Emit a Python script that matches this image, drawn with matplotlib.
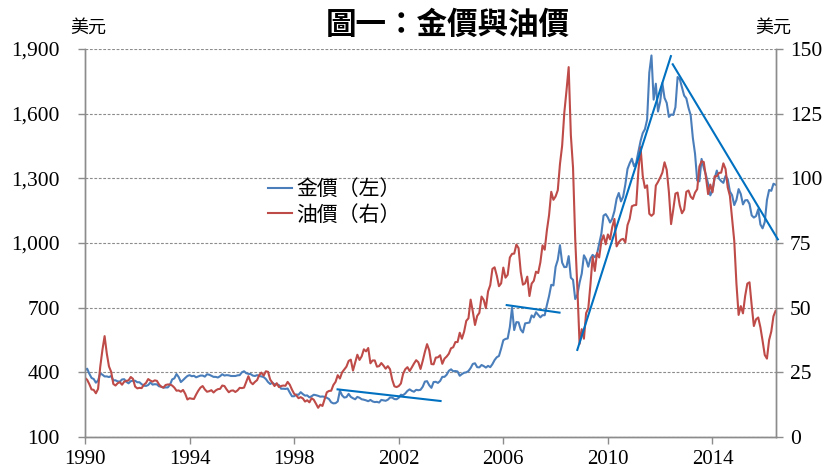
import matplotlib
matplotlib.use("Agg")
import matplotlib.pyplot as plt
from matplotlib.ticker import FuncFormatter
import numpy as np

plt.rcParams['font.family'] = ['Liberation Serif', 'Noto Sans CJK TC', 'DejaVu Sans']

# ---------------- data (monthly, starting Jan 1990) ----------------
gold_by_year = {
    1990: [410, 417, 393, 374, 369, 352, 362, 395, 389, 381, 381, 378],
    1991: [383, 363, 363, 358, 357, 367, 368, 356, 349, 359, 361, 361],
    1992: [354, 354, 345, 338, 337, 341, 353, 343, 345, 344, 335, 334],
    1993: [329, 330, 330, 342, 367, 372, 392, 378, 355, 364, 374, 383],
    1994: [387, 382, 384, 377, 381, 385, 385, 380, 391, 389, 384, 379],
    1995: [379, 376, 382, 391, 385, 387, 386, 383, 383, 383, 386, 387],
    1996: [400, 405, 396, 393, 392, 385, 383, 387, 383, 381, 378, 369],
    1997: [355, 346, 352, 344, 344, 341, 324, 324, 323, 325, 306, 289],
    1998: [289, 297, 296, 308, 299, 292, 293, 284, 289, 296, 294, 291],
    1999: [287, 288, 286, 282, 276, 261, 256, 257, 265, 315, 293, 283],
    2000: [285, 300, 286, 280, 275, 286, 282, 275, 273, 270, 266, 272],
    2001: [265, 262, 263, 260, 272, 270, 268, 273, 283, 283, 276, 275],
    2002: [282, 296, 294, 302, 314, 321, 314, 310, 319, 317, 319, 333],
    2003: [357, 359, 340, 328, 355, 356, 351, 360, 379, 379, 389, 407],
    2004: [414, 405, 406, 404, 384, 392, 398, 400, 406, 420, 439, 442],
    2005: [424, 423, 434, 429, 422, 430, 424, 438, 457, 470, 476, 510],
    2006: [549, 555, 557, 610, 700, 596, 633, 632, 598, 585, 627, 629],
    2007: [631, 664, 655, 679, 667, 655, 665, 665, 712, 754, 806, 803],
    2008: [889, 922, 990, 909, 888, 889, 939, 839, 829, 740, 760, 816],
    2009: [858, 943, 924, 890, 928, 945, 934, 949, 996, 1043, 1127, 1134],
    2010: [1118, 1095, 1113, 1148, 1205, 1232, 1193, 1215, 1271, 1343, 1370, 1391],
    2011: [1356, 1372, 1424, 1473, 1510, 1528, 1572, 1790, 1870, 1665, 1739, 1610],
    2012: [1656, 1742, 1673, 1650, 1585, 1596, 1594, 1630, 1770, 1760, 1721, 1684],
    2013: [1671, 1627, 1593, 1487, 1414, 1290, 1286, 1390, 1349, 1316, 1275, 1221],
    2014: [1244, 1300, 1336, 1299, 1287, 1279, 1311, 1296, 1239, 1222, 1176, 1200],
    2015: [1250, 1227, 1179, 1198, 1199, 1181, 1128, 1118, 1125, 1157, 1086, 1068],
    2016: [1097, 1199, 1246, 1242, 1275, 1270],
}
oil_by_year = {
    1990: [22.9, 22.1, 20.4, 18.4, 18.2, 16.9, 18.6, 27.2, 33.7, 39.0, 32.3, 27.3],
    1991: [25.2, 20.5, 19.9, 20.8, 21.2, 20.2, 21.4, 21.7, 21.9, 23.2, 22.5, 19.5],
    1992: [18.8, 19.0, 18.9, 20.2, 20.9, 22.4, 21.8, 21.4, 21.9, 21.7, 20.3, 19.4],
    1993: [19.1, 20.1, 20.3, 20.3, 19.9, 19.1, 17.9, 18.0, 17.5, 18.2, 16.7, 14.5],
    1994: [15.0, 14.8, 14.7, 16.4, 17.9, 19.1, 19.7, 18.4, 17.5, 17.7, 18.1, 17.2],
    1995: [18.0, 18.5, 18.6, 19.9, 19.7, 18.4, 17.3, 17.9, 18.0, 17.4, 18.0, 19.0],
    1996: [18.9, 19.1, 21.3, 23.5, 21.2, 20.4, 21.3, 22.0, 24.0, 24.9, 23.7, 25.4],
    1997: [25.2, 22.2, 21.0, 19.7, 20.8, 19.3, 19.7, 19.9, 19.8, 21.3, 20.2, 18.3],
    1998: [16.7, 16.1, 15.0, 15.4, 14.9, 13.7, 14.2, 13.4, 15.0, 14.4, 12.9, 11.3],
    1999: [12.5, 12.0, 14.7, 17.3, 17.8, 17.9, 20.1, 21.3, 23.9, 22.6, 25.0, 26.1],
    2000: [27.2, 29.4, 29.9, 25.7, 28.8, 31.8, 29.8, 31.2, 33.9, 33.1, 34.4, 28.5],
    2001: [29.6, 29.6, 27.2, 27.4, 28.6, 27.6, 26.4, 27.4, 26.2, 22.2, 19.6, 19.3],
    2002: [19.7, 20.7, 24.4, 26.2, 27.0, 25.5, 26.9, 28.4, 29.7, 28.9, 26.3, 29.4],
    2003: [32.9, 35.9, 33.5, 28.2, 28.1, 30.7, 30.8, 31.6, 28.3, 30.3, 31.1, 32.2],
    2004: [34.3, 34.7, 36.7, 36.7, 40.3, 38.0, 40.7, 44.9, 45.9, 53.1, 48.5, 43.3],
    2005: [46.8, 48.0, 54.3, 53.0, 49.8, 56.3, 58.7, 65.0, 65.6, 62.4, 58.3, 59.4],
    2006: [65.5, 61.6, 62.7, 69.4, 70.8, 70.9, 74.4, 73.0, 63.8, 58.9, 59.4, 62.0],
    2007: [54.5, 59.3, 60.4, 63.9, 63.4, 67.5, 74.1, 72.4, 79.9, 85.8, 94.8, 91.7],
    2008: [93.0, 95.4, 105.5, 112.6, 125.4, 133.9, 143.0, 116.7, 104.1, 76.6, 57.3, 36.0],
    2009: [41.7, 38.0, 47.9, 49.7, 59.0, 69.6, 64.2, 71.1, 69.4, 75.7, 78.0, 74.5],
    2010: [78.3, 76.4, 81.2, 84.3, 73.7, 75.3, 76.3, 76.6, 75.2, 81.9, 84.3, 89.2],
    2011: [89.6, 89.7, 102.9, 112.0, 100.9, 96.3, 97.3, 86.3, 85.5, 86.3, 97.2, 98.6],
    2012: [100.3, 102.2, 106.2, 103.3, 94.7, 82.3, 87.9, 94.1, 94.5, 89.5, 86.5, 87.9],
    2013: [94.8, 95.3, 92.9, 92.0, 94.5, 95.8, 104.6, 106.6, 106.3, 100.5, 93.9, 97.6],
    2014: [94.6, 100.8, 100.8, 102.1, 102.2, 105.8, 103.6, 96.5, 93.2, 84.4, 75.8, 59.3],
    2015: [47.2, 50.6, 47.8, 54.5, 59.3, 59.8, 50.9, 42.9, 45.5, 46.2, 42.4, 37.2],
    2016: [31.7, 30.3, 37.5, 40.8, 46.7, 48.8],
}

# trend lines (year, gold-axis value)
trend1_x = [1999.66, 2003.6]
trend1_y = [321, 267]
trend2_x = [2006.13, 2008.15]
trend2_y = [712, 677]
trend3_x = [2008.83, 2012.41]
trend3_y = [504, 1867]
trend4_x = [2012.48, 2016.5]
trend4_y = [1829, 1017]

x_ticks = [1990, 1994, 1998, 2002, 2006, 2010, 2014]
left_ticks = [100, 400, 700, 1000, 1300, 1600, 1900]
right_ticks = [0, 25, 50, 75, 100, 125, 150]

title_text = "圖一：金價與油價"
unit_text = "美元"
gold_label = "金價（左）"
oil_label = "油價（右）"

# ---------------- build series ----------------
def series(d):
    xs, ys = [], []
    for yr in sorted(d):
        for m, v in enumerate(d[yr]):
            xs.append(yr + m / 12.0)
            ys.append(v)
    return np.array(xs), np.array(ys)

gx, gy = series(gold_by_year)
ox, oy = series(oil_by_year)

gold_color = "#4A7EBB"
oil_color = "#BE4B48"
trend_color = "#0070C0"

fig = plt.figure(figsize=(8.3, 4.7), dpi=100)
ax = fig.add_axes([85/830, 1-437/470, (776-85)/830, (437-49)/470])
ax2 = ax.twinx()

ax.set_xlim(1990, 2016.43)
ax.set_ylim(100, 1900)
ax2.set_ylim(0, 150)

l1, = ax.plot(gx, gy, color=gold_color, lw=1.5, label=gold_label)
l2, = ax2.plot(ox, oy, color=oil_color, lw=1.5, label=oil_label)

for tx, ty in [(trend1_x, trend1_y), (trend2_x, trend2_y),
               (trend3_x, trend3_y), (trend4_x, trend4_y)]:
    ax2.plot(tx, ty, color=trend_color, lw=1.5, transform=ax.transData,
             clip_on=False, zorder=5)

ax.set_xticks(x_ticks)
ax.set_yticks(left_ticks)
ax2.set_yticks(right_ticks)
ax.yaxis.set_major_formatter(FuncFormatter(lambda v, p: f"{int(v):,}"))

ax.yaxis.grid(True, color="#8c8c8c", linestyle=(0, (2.5, 1.5)), lw=0.8)
ax.set_axisbelow(True)

for a in (ax, ax2):
    a.spines['top'].set_visible(False)
    for s in ('left', 'right', 'bottom'):
        a.spines[s].set_color("#8c8c8c")
        a.spines[s].set_linewidth(1.0)
    a.tick_params(axis='both', direction='out', length=5, width=1.0,
                  color="#8c8c8c", labelsize=15.5, labelcolor="black")
ax.tick_params(axis='x', pad=4, labelsize=15)
ax.tick_params(axis='y', pad=13)
ax2.tick_params(axis='y', pad=5)

fig.text(0.539, 0.947, title_text, ha='center', va='center', fontsize=22,
         fontweight='bold', family=['Noto Sans CJK TC'])
fig.text(88/830, 1-28/470, unit_text, ha='center', va='center', fontsize=13,
         family=['Noto Sans CJK TC'])
fig.text(773/830, 1-28/470, unit_text, ha='center', va='center', fontsize=13,
         family=['Noto Sans CJK TC'])

leg = fig.legend([l1, l2], [gold_label, oil_label], loc='upper left',
                 bbox_to_anchor=(260/830, 1-170/470), frameon=False,
                 prop={'family': ['Noto Sans CJK TC'], 'size': 15},
                 handlelength=1.15, handletextpad=0.2, labelspacing=0.15,
                 borderaxespad=0)
for h in leg.get_lines():
    h.set_linewidth(1.5)

fig.savefig("out.png", dpi=100)
